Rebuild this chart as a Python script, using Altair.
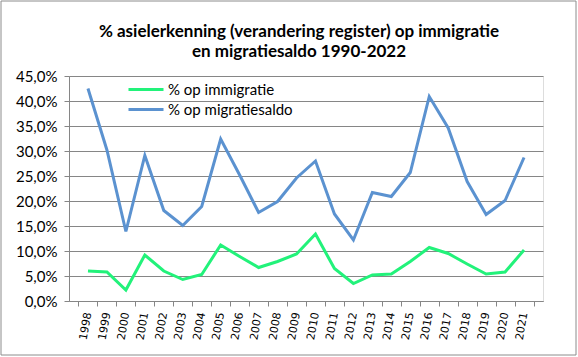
import altair as alt
import pandas as pd

years = [str(y) for y in range(1998, 2022)]
immigratie = [6.0, 5.8, 2.2, 9.2, 6.0, 4.3, 5.3, 11.2, 8.9, 6.7, 7.9, 9.4,
              13.4, 6.5, 3.5, 5.2, 5.4, 7.9, 10.7, 9.5, 7.4, 5.4, 5.8, 10.2]
migratiesaldo = [42.5, 30.2, 13.9, 29.1, 18.1, 15.1, 18.9, 32.4, 25.2, 17.7, 19.9, 24.6,
                 28.0, 17.4, 12.2, 21.7, 20.9, 25.7, 40.9, 34.6, 23.9, 17.3, 20.1, 28.7]
series = ["% op immigratie", "% op migratiesaldo"]
colors = ["#22F27A", "#5B92D0"]

rows = []
for y, a, b in zip(years, immigratie, migratiesaldo):
    rows.append({"jaar": y, "serie": series[0], "waarde": a / 100})
    rows.append({"jaar": y, "serie": series[1], "waarde": b / 100})
df = pd.DataFrame(rows)

W, H = 474, 225

border = alt.Chart(pd.DataFrame({"a": [0]})).mark_rect(
    fill=None, stroke="#8c8c8c", strokeWidth=1
).encode(
    x=alt.value(-68), x2=alt.value(W + 33), y=alt.value(-75), y2=alt.value(H + 54)
)

lines = alt.Chart(df).mark_line(strokeWidth=3).encode(
    x=alt.X("jaar:O", sort=years, title=None,
            scale=alt.Scale(paddingInner=0, paddingOuter=0.5),
            axis=alt.Axis(labelAngle=280, labelFont="DejaVu Sans", labelFontSize=11,
                          labelColor="#000000", tickBand="extent", ticks=True, tickSize=5,
                          tickColor="#868686", domainColor="#868686", grid=False,
                          labelPadding=6, labelOverlap=False)),
    y=alt.Y("waarde:Q", title=None,
            scale=alt.Scale(domain=[0, 0.45], nice=False),
            axis=alt.Axis(values=[i * 0.05 for i in range(10)],
                          labelExpr="replace(format(datum.value, '.1%'), '.', ',')",
                          labelFont="Lato", labelFontSize=15, labelColor="#000000",
                          tickSize=5, tickColor="#868686", domainColor="#868686",
                          gridColor="#868686", gridWidth=1, labelPadding=7)),
    color=alt.Color("serie:N", sort=series,
                    scale=alt.Scale(domain=series, range=colors),
                    legend=alt.Legend(title=None, orient="none", legendX=58, legendY=2,
                                      symbolType="M-1,0H2.5", symbolSize=400,
                                      symbolStrokeWidth=3, labelFont="Lato",
                                      labelFontSize=15, labelColor="#000000",
                                      rowPadding=-2, labelOffset=18)),
)

chart = alt.layer(lines, border).properties(
    width=W, height=H,
    title=alt.TitleParams(
        text=["% asielerkenning (verandering register) op immigratie",
              "en migratiesaldo  1990-2022"],
        font="Lato", fontSize=17, fontWeight="bold", color="#000000",
        anchor="middle", offset=-60, lineHeight=20, dx=-7),
    autosize=alt.AutoSizeParams(type="none"),
    padding={"left": 69, "top": 76, "right": 35, "bottom": 56},
).configure_view(stroke=None).configure(background="white")

chart.save("out.html", embed_options={"renderer": "svg", "actions": False})
